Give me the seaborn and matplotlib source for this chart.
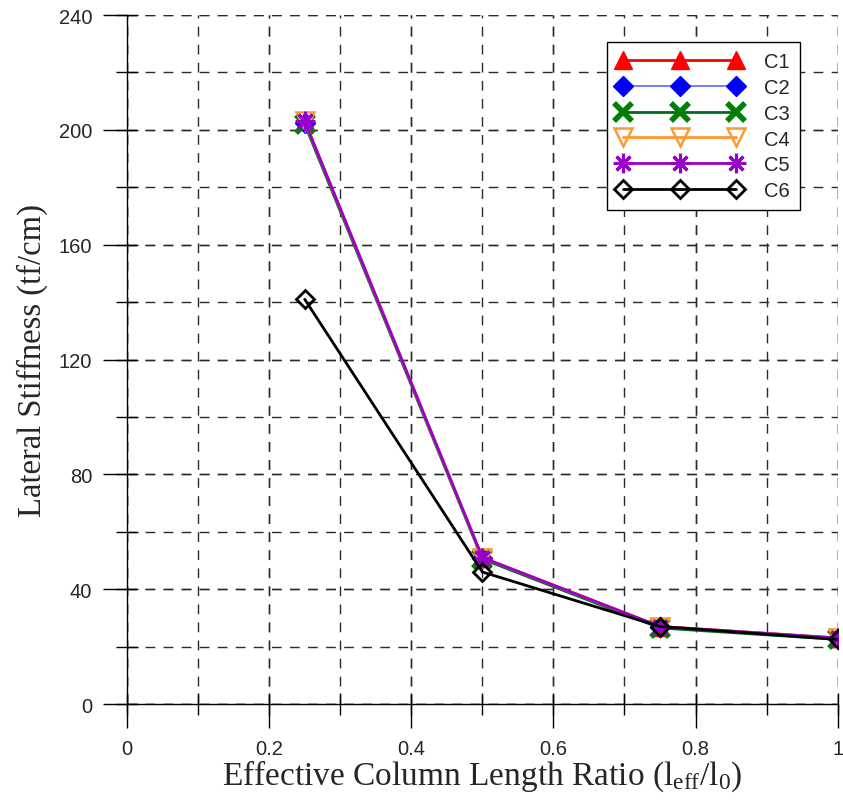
import numpy as np
import pandas as pd
import matplotlib
matplotlib.use("Agg")
import matplotlib.pyplot as plt
import seaborn as sns
from matplotlib.ticker import MultipleLocator, FuncFormatter

# Datos
ratio = [0.25, 0.5, 0.75, 1.0]
c1 = [203, 51, 27, 23]
c2 = [202.5, 51, 27, 23]
c3 = [202, 50.5, 26.5, 22.5]
c4 = [203, 51, 27, 23]
c5 = [203, 51, 27, 23]
c6 = [141, 46, 27, 22.5]

series = {'C1': c1, 'C2': c2, 'C3': c3, 'C4': c4, 'C5': c5, 'C6': c6}

# Estilos de cada serie
styles = {
    'C1': dict(color='#ff0000', marker='^', markersize=13, markerfacecolor='#ff0000',
               markeredgecolor='#ff0000', markeredgewidth=1, linewidth=2),
    'C2': dict(color='#7070ff', marker='D', markersize=10.5, markerfacecolor='#0000ff',
               markeredgecolor='#0000ff', markeredgewidth=1, linewidth=1.3),
    'C3': dict(color='#006a20', marker='x', markersize=13, markerfacecolor='#008000',
               markeredgecolor='#008000', markeredgewidth=4, linewidth=2),
    'C4': dict(color='#ff9933', marker='v', markersize=13, markerfacecolor='none',
               markeredgecolor='#ff9933', markeredgewidth=1.8, linewidth=2),
    'C5': dict(color='#9900cc', marker=(8, 2, 0), markersize=14, markerfacecolor='#9900cc',
               markeredgecolor='#9900cc', markeredgewidth=2.2, linewidth=2),
    'C6': dict(color='#000000', marker='D', markersize=9.5, markerfacecolor='none',
               markeredgecolor='#000000', markeredgewidth=2, linewidth=2),
}

sns.set_style('white')
plt.rcParams['font.family'] = ['Liberation Sans', 'DejaVu Sans']
plt.rcParams['mathtext.fontset'] = 'custom'
plt.rcParams['mathtext.rm'] = 'Liberation Serif'
plt.rcParams['mathtext.it'] = 'Liberation Serif'

fig = plt.figure(figsize=(8.43, 8.03), dpi=100)
ax = fig.add_axes([0.1507, 0.122, 0.843, 0.858])

for name, vals in series.items():
    sns.lineplot(x=ratio, y=vals, ax=ax, label=name, **styles[name])

ax.set_xlim(0, 1)
ax.set_ylim(0, 240)
ax.xaxis.set_major_locator(MultipleLocator(0.2))
ax.xaxis.set_minor_locator(MultipleLocator(0.1))
ax.yaxis.set_major_locator(MultipleLocator(40))
ax.yaxis.set_minor_locator(MultipleLocator(20))
ax.xaxis.remove_overlapping_locs = False
ax.yaxis.remove_overlapping_locs = False
ax.xaxis.set_major_formatter(FuncFormatter(lambda v, p: f'{v:g}'))
ax.yaxis.set_major_formatter(FuncFormatter(lambda v, p: f'{v:g}'))

ax.grid(which='both', linestyle=(0, (7, 6)), color='#2a2a2a', linewidth=1)
ax.set_axisbelow(True)

for s in ['top', 'right']:
    ax.spines[s].set_visible(False)
for s in ['left', 'bottom']:
    ax.spines[s].set_color('black')
    ax.spines[s].set_linewidth(1)

ax.tick_params(which='major', direction='out', length=17, width=1, color='black',
               labelsize=14.5, pad=8, bottom=True, left=True)
ax.tick_params(which='minor', direction='inout', length=16, width=1, color='black',
               bottom=True, left=True)

ax.set_xlabel(r'Effective Column Length Ratio (l$_{\mathrm{eff}}$/l$_{0}$)',
              family='Liberation Serif', fontsize=24, labelpad=0)
ax.set_ylabel('Lateral Stiffness (tf/cm)', family='Liberation Serif', fontsize=23.5, labelpad=8)

leg = ax.legend(loc='upper right', bbox_to_anchor=(0.947, 0.961), numpoints=3,
                handlelength=6.2, fontsize=14.5, labelspacing=0.34, frameon=True,
                fancybox=False, borderpad=0.5, handletextpad=1.1, borderaxespad=0)
leg.get_frame().set_edgecolor('black')
leg.get_frame().set_linewidth(1)
leg.get_frame().set_alpha(1)

fig.savefig('out.png', dpi=100)
